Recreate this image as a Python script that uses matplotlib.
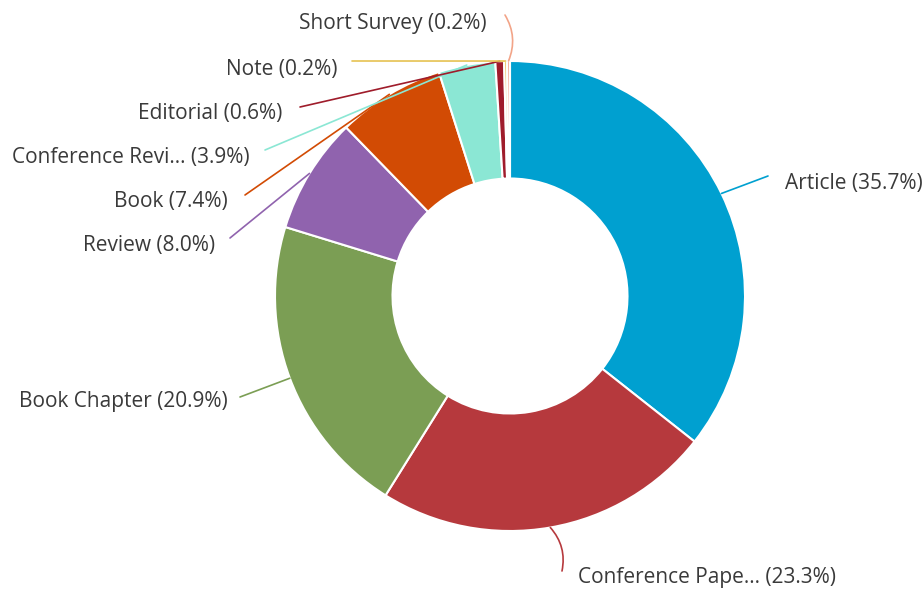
import numpy as np
import matplotlib
matplotlib.use("Agg")
import matplotlib.pyplot as plt

# === Data ===
labels = ["Article", "Conference Pape...", "Book Chapter", "Review", "Book",
          "Conference Revi...", "Editorial", "Note", "Short Survey"]
shares = [35.7, 23.3, 20.9, 8.0, 7.4, 3.9, 0.6, 0.2, 0.2]
colors = ["#00A0D0", "#B6393D", "#7B9E54", "#9063AE", "#D24B04",
          "#8BE7D4", "#9F1C2B", "#E6C252", "#F2A488"]

# === Layout (pixel coords, y measured from top) ===
W, H = 923, 591
center = (510, 296)
radius = 235
# end of connector line, text anchor position, text alignment, connector curvature
line_end = [(768, 176), (562, 571), (240, 397), (230, 238), (245, 195),
            (265, 150), (300, 107), (352, 61), (505, 15)]
text_pos = [(785, 184), (578, 578), (228, 401), (215, 245), (228, 202),
            (250, 158), (282, 114), (337, 70), (487, 24)]
text_ha = ["left", "left", "right", "right", "right", "right", "right", "right", "right"]
curve = [0, 0.25, 0, 0, 0, 0, 0, 0, -0.25]

plt.rcParams['font.family'] = ['Open Sans', 'DejaVu Sans']

fig = plt.figure(figsize=(W / 100, H / 100), dpi=100)
ax = fig.add_axes([0, 0, 1, 1])

wedges, _ = ax.pie(shares, colors=colors, startangle=90, counterclock=False,
                   center=(center[0], H - center[1]), radius=radius,
                   wedgeprops=dict(width=radius * 0.5, edgecolor="white", linewidth=1.5),
                   frame=True)
ax.set_xlim(0, W)
ax.set_ylim(0, H)
ax.set_aspect("equal")
ax.axis("off")

for i, w in enumerate(wedges):
    ang = np.deg2rad((w.theta1 + w.theta2) / 2)
    cx, cy = w.center
    anchor = (cx + w.r * np.cos(ang), cy + w.r * np.sin(ang))
    end = (line_end[i][0], H - line_end[i][1])
    ax.annotate("", xy=anchor, xytext=end,
                arrowprops=dict(arrowstyle="-", color=colors[i], lw=1.2,
                                shrinkA=0, shrinkB=0,
                                connectionstyle=f"arc3,rad={curve[i]}"))
    ax.text(text_pos[i][0], H - text_pos[i][1], f"{labels[i]} ({shares[i]:.1f}%)",
            ha=text_ha[i], va="center", fontsize=15, color="#3a3a3a")

fig.savefig("out.png", dpi=100)
